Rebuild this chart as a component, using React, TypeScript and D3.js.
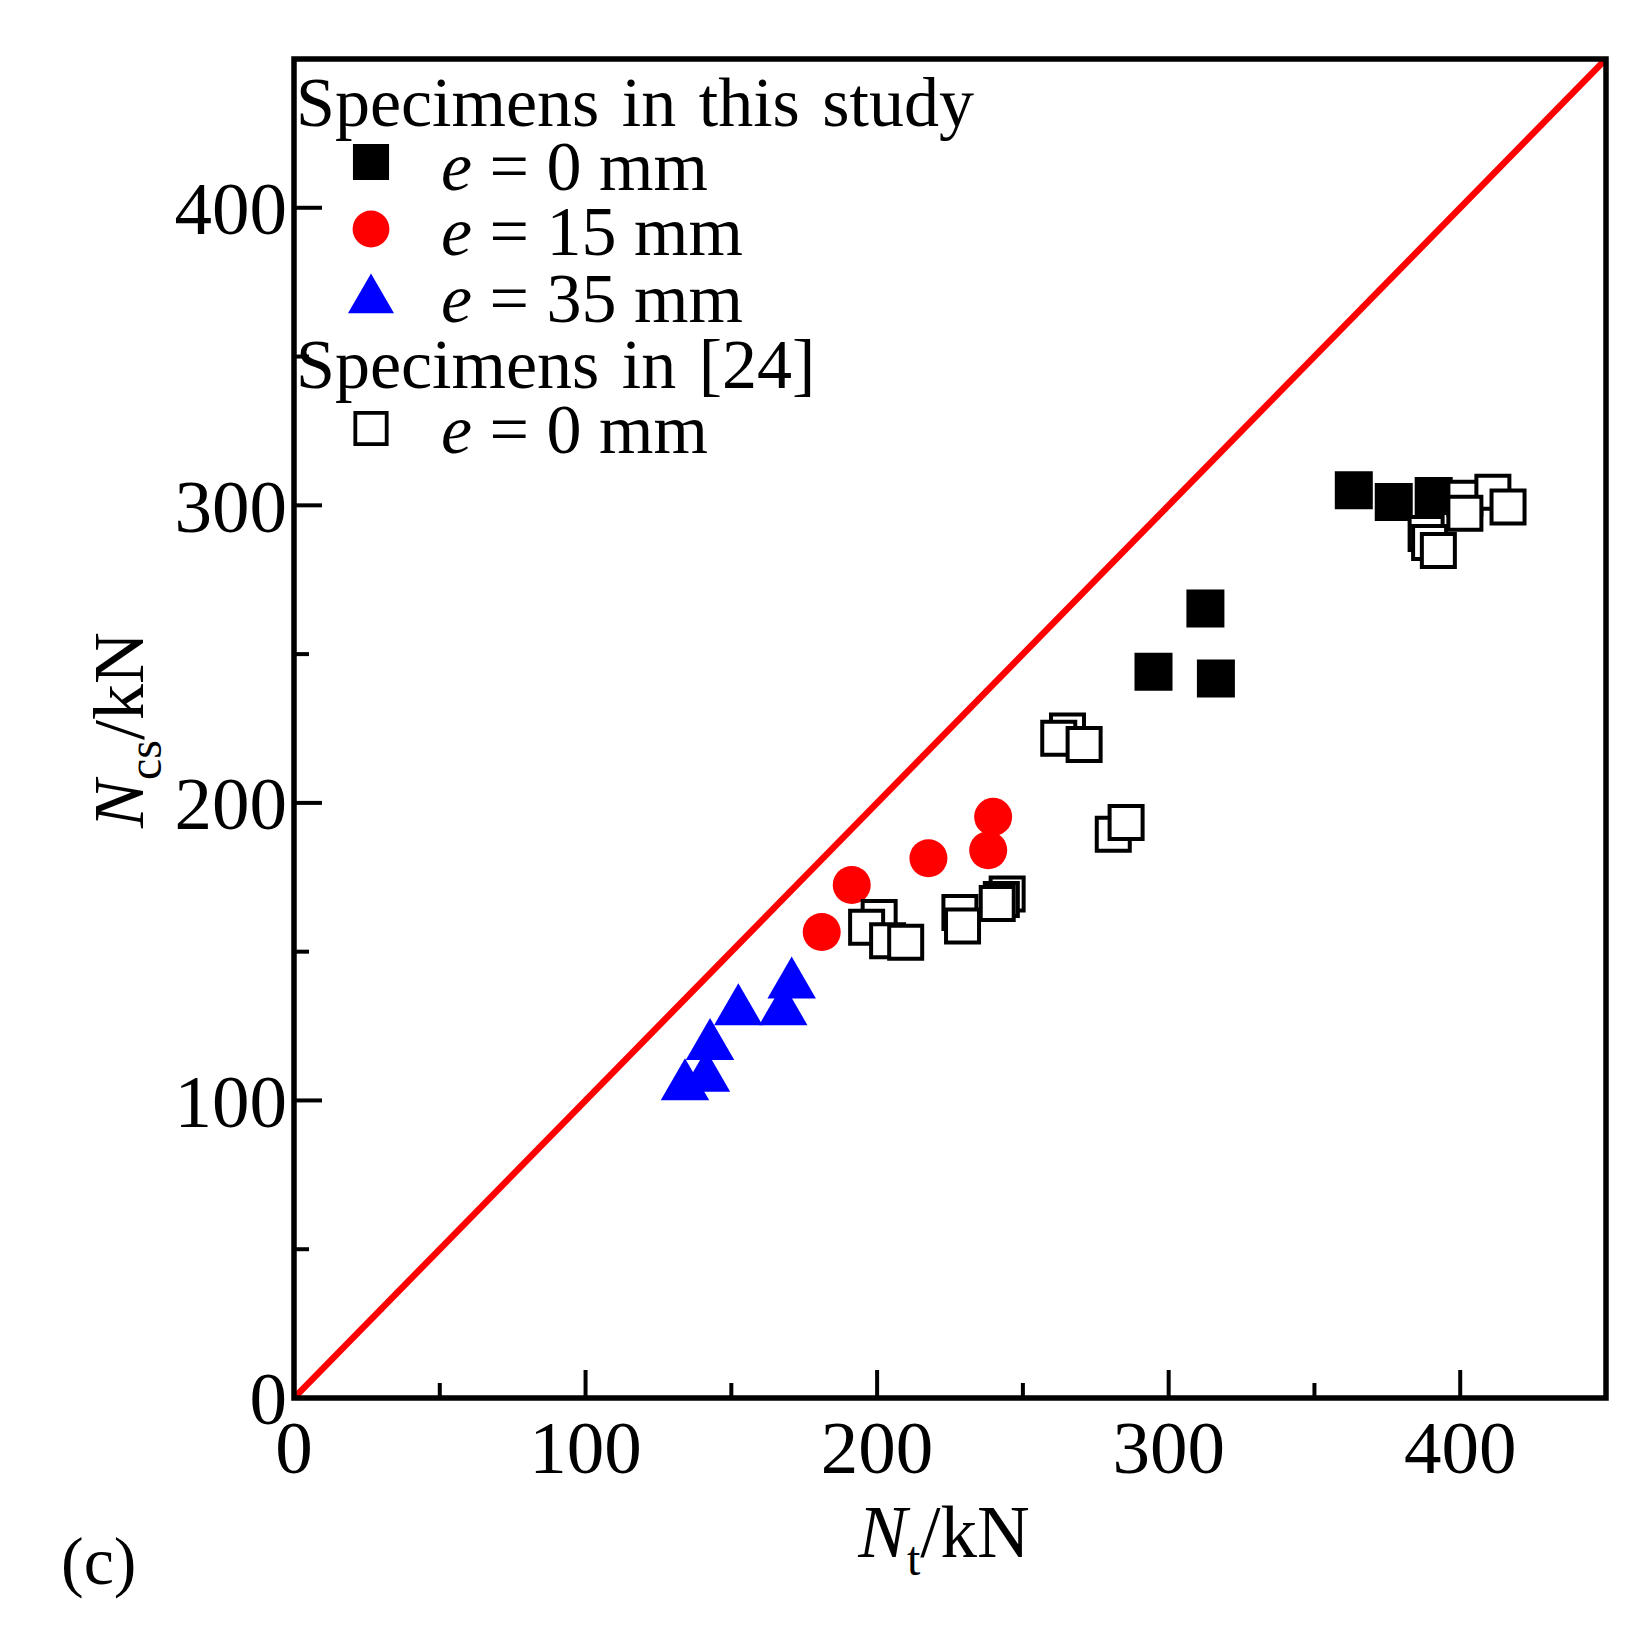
import React from "react";
import * as d3 from "d3";

const W = 1650;
const H = 1635;

const xTicks = [0, 100, 200, 300, 400];
const yTicks = [0, 100, 200, 300, 400];
const minorTicks = [50, 150, 250, 350];

// Specimens in this study, e = 0 mm (filled squares)
const e0X = [294.8, 316.2, 312.6, 363.5, 377.2, 390.9];
const e0Y = [244.1, 241.8, 265.3, 305.1, 301.1, 303.1];

// e = 15 mm (red circles)
const e15X = [181.0, 191.3, 217.6, 238.1, 239.8];
const e15Y = [156.6, 172.4, 181.4, 184.1, 195.3];

// e = 35 mm (blue triangles)
const e35X = [134.1, 141.3, 142.7, 152.4, 167.8, 170.7];
const e35Y = [104.8, 107.6, 118.3, 130.0, 130.0, 139.0];

// Specimens in [24], e = 0 mm (open squares)
const refX = [200.7, 196.4, 203.6, 209.8, 228.4, 229.3, 244.6, 242.6, 241.2,
  265.3, 262.3, 271.0, 281.0, 285.4,
  388.3, 389.5, 392.5, 401.6, 411.2, 401.6, 416.4];
const refY = [161.5, 158.2, 153.7, 153.2, 163.2, 158.6, 169.4, 167.5, 166.2,
  224.2, 221.7, 219.6, 189.5, 193.4,
  290.5, 287.5, 284.8, 302.4, 304.4, 297.3, 299.4];

const FONT = "'Liberation Serif', 'Times New Roman', serif";

export default function App() {
  const left = 294, right = 1606, top = 59, bottom = 1398;
  const x = d3.scaleLinear().domain([0, 450]).range([left, right]);
  const y = d3.scaleLinear().domain([0, 450]).range([bottom, top]);

  const sq = d3.symbol().type(d3.symbolSquare).size(38 * 38)() as string;
  const osq = d3.symbol().type(d3.symbolSquare).size(33 * 33)() as string;
  const circ = d3.symbol().type(d3.symbolCircle).size(Math.PI * 19 * 19)() as string;
  const tri = d3.symbol().type(d3.symbolTriangle).size(1018)() as string;

  const line = d3.line<number>().x((d) => x(d)).y((d) => y(d));

  const tickFs = 75;
  const legFs = 70;
  const mx = 371;
  const tx = 441;

  return (
    <svg width={W} height={H} style={{ position: "absolute", left: 0, top: 0, background: "#fff" }}
      fontFamily={FONT}>
      <rect x={0} y={0} width={W} height={H} fill="#fff" />
      {/* identity line */}
      <path d={line([0, 450]) as string} stroke="#ff0000" strokeWidth={6.5} fill="none" />

      {/* e = 15 circles */}
      {e15X.map((v, i) => (
        <path key={"c" + i} d={circ} transform={`translate(${x(v)},${y(e15Y[i])})`} fill="#ff0000" />
      ))}
      {/* e = 35 triangles */}
      {e35X.map((v, i) => (
        <path key={"t" + i} d={tri} transform={`translate(${x(v)},${y(e35Y[i])})`} fill="#0000ff" />
      ))}
      {/* e = 0 filled squares */}
      {e0X.map((v, i) => (
        <path key={"s" + i} d={sq} transform={`translate(${x(v)},${y(e0Y[i])})`} fill="#000" />
      ))}
      {/* reference open squares */}
      {refX.map((v, i) => (
        <path key={"o" + i} d={osq} transform={`translate(${x(v)},${y(refY[i])})`} fill="#fff"
          stroke="#000" strokeWidth={4} />
      ))}

      {/* frame */}
      <rect x={left} y={top} width={right - left} height={bottom - top} fill="none" stroke="#000" strokeWidth={5.5} />

      {/* x ticks */}
      {xTicks.map((t) => (
        <g key={"xt" + t}>
          {t > 0 && <line x1={x(t)} x2={x(t)} y1={bottom} y2={bottom - 28} stroke="#000" strokeWidth={4} />}
          <text x={x(t)} y={1473} textAnchor="middle" fontSize={tickFs}>{t}</text>
        </g>
      ))}
      {minorTicks.map((t) => (
        <line key={"xm" + t} x1={x(t)} x2={x(t)} y1={bottom} y2={bottom - 15} stroke="#000" strokeWidth={4} />
      ))}
      {/* y ticks */}
      {yTicks.map((t) => (
        <g key={"yt" + t}>
          {t > 0 && <line x1={left} x2={left + 28} y1={y(t)} y2={y(t)} stroke="#000" strokeWidth={4} />}
          <text x={287} y={y(t)} dy="0.35em" textAnchor="end" fontSize={tickFs}>{t}</text>
        </g>
      ))}
      {minorTicks.map((t) => (
        <line key={"ym" + t} x1={left} x2={left + 15} y1={y(t)} y2={y(t)} stroke="#000" strokeWidth={4} />
      ))}

      {/* legend */}
      <text x={296} y={126} fontSize={legFs} wordSpacing={5}>Specimens in this study</text>
      <path d={sq} transform={`translate(${mx},162) scale(0.95)`} fill="#000" />
      <text x={tx} y={190} fontSize={legFs}><tspan fontStyle="italic">e</tspan> = 0 mm</text>
      <path d={circ} transform={`translate(${mx},229) scale(0.97)`} fill="#ff0000" />
      <text x={tx} y={255} fontSize={legFs}><tspan fontStyle="italic">e</tspan> = 15 mm</text>
      <path d={tri} transform={`translate(${mx},300) scale(0.95)`} fill="#0000ff" />
      <text x={tx} y={322} fontSize={legFs}><tspan fontStyle="italic">e</tspan> = 35 mm</text>
      <text x={296} y={388} fontSize={legFs} wordSpacing={5}>Specimens in [24]</text>
      <path d={osq} transform={`translate(${mx},428.5) scale(0.95)`} fill="#fff" stroke="#000" strokeWidth={4} />
      <text x={tx} y={453} fontSize={legFs}><tspan fontStyle="italic">e</tspan> = 0 mm</text>

      {/* axis labels */}
      <text x={944} y={1557} textAnchor="middle" fontSize={73}>
        <tspan fontStyle="italic">N</tspan>
        <tspan fontSize={48} dy={18}>t</tspan>
        <tspan dy={-18}>/kN</tspan>
      </text>
      <text transform="translate(143,730) rotate(-90)" textAnchor="middle" fontSize={72}>
        <tspan fontStyle="italic">N</tspan>
        <tspan fontSize={48} dy={18}>cs</tspan>
        <tspan dy={-18}>/kN</tspan>
      </text>
      <text x={61} y={1584} fontSize={68}>(c)</text>
    </svg>
  );
}
